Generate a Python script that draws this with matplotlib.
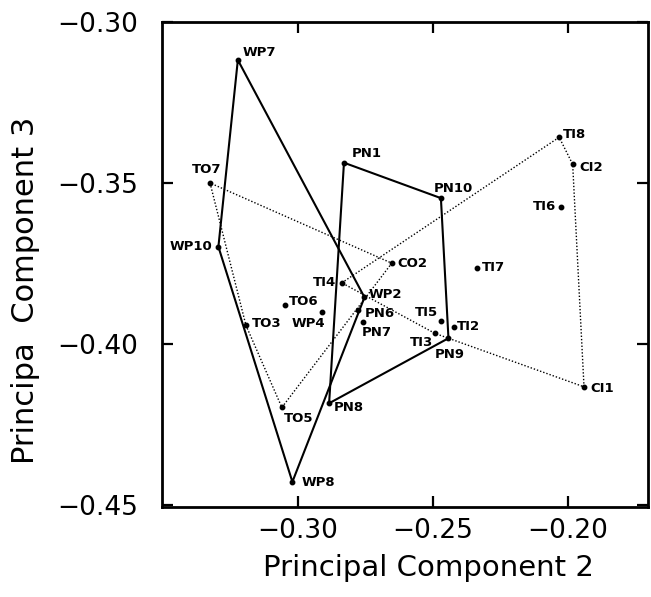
"""Principal component scatter with convex hulls per site group."""

import matplotlib

matplotlib.use("Agg")
from matplotlib import pyplot as plt

# sample scores on PC2 (x) and PC3 (y)
names = [
    "WP7", "WP10", "WP8", "WP2", "WP4",
    "PN1", "PN10", "PN9", "PN8", "PN6", "PN7",
    "TO7", "TO3", "TO5", "TO6", "CO2",
    "TI4", "TI8", "TI6", "TI7", "TI5", "TI2", "TI3", "CI2", "CI1",
]
pc2 = [
    -0.3223, -0.3295, -0.3021, -0.2754, -0.2910,
    -0.2830, -0.2471, -0.2443, -0.2885, -0.2777, -0.2758,
    -0.3326, -0.3193, -0.3060, -0.3048, -0.2653,
    -0.2838, -0.2033, -0.2027, -0.2336, -0.2469, -0.2422, -0.2493, -0.1983, -0.1941,
]
pc3 = [
    -0.3118, -0.3698, -0.4428, -0.3855, -0.3901,
    -0.3437, -0.3547, -0.3982, -0.4184, -0.3894, -0.3931,
    -0.3500, -0.3942, -0.4197, -0.3880, -0.3749,
    -0.3810, -0.3358, -0.3575, -0.3764, -0.3928, -0.3946, -0.3967, -0.3442, -0.4133,
]

# hull outlines, as vertex names
hull_wp = ["WP7", "WP10", "WP8", "WP2", "WP7"]
hull_pn = ["PN1", "PN10", "PN9", "PN8", "PN1"]
hull_to = ["TO7", "TO3", "TO5", "CO2", "TO7"]
hull_ti = ["TI4", "TI8", "CI2", "CI1", "TI3", "TI4"]

xticks = [-0.30, -0.25, -0.20]
yticks = [-0.30, -0.35, -0.40, -0.45]

# label placement: offset in pixels (right, down) and alignment
label_pos = {
    "WP7": (5, -7, "left"), "WP10": (-6, 0, "right"), "WP8": (9, 1, "left"),
    "WP2": (4, -3, "left"), "WP4": (3, 11, "right"),
    "PN1": (8, -9, "left"), "PN10": (-7, -10, "left"), "PN9": (1, 16, "center"),
    "PN8": (5, 4, "left"), "PN6": (6, 4, "left"), "PN7": (-2, 11, "left"),
    "TO7": (-3, -13, "center"), "TO3": (6, -2, "left"), "TO5": (2, 11, "left"),
    "TO6": (4, -4, "left"), "CO2": (6, 0, "left"),
    "TI4": (-6, 0, "right"), "TI8": (4, -3, "left"), "TI6": (-5, -1, "right"),
    "TI7": (5, -1, "left"), "TI5": (-3, -8, "right"), "TI2": (3, 0, "left"),
    "TI3": (-2, 9, "right"), "CI2": (7, 3, "left"), "CI1": (6, 2, "left"),
}


def hull_xy(hull):
    idx = [names.index(n) for n in hull]
    return [pc2[i] for i in idx], [pc3[i] for i in idx]


def main() -> None:
    plt.rcParams["font.family"] = ["DejaVu Sans"]
    fig = plt.figure(figsize=(6.51, 5.97), dpi=100)
    ax = fig.add_axes([0.2488, 0.1508, 0.7466, 0.8124])

    for hull in (hull_wp, hull_pn):
        hx, hy = hull_xy(hull)
        ax.plot(hx, hy, color="black", linewidth=1.5, solid_joinstyle="miter")
    for hull in (hull_to, hull_ti):
        hx, hy = hull_xy(hull)
        ax.plot(hx, hy, color="black", linewidth=1.0, linestyle=(0, (1, 1.4)))

    ax.plot(pc2, pc3, "o", color="black", markersize=3.2, linestyle="none")

    px = 72 / 100
    for name, x, y in zip(names, pc2, pc3):
        dx, dy, ha = label_pos[name]
        ax.annotate(name, (x, y), xytext=(dx * px, -dy * px), textcoords="offset points",
                    ha=ha, va="center", fontsize=9.5, fontweight="bold")

    ax.set_xlim(-0.3504, -0.1704)
    ax.set_ylim(-0.4506, -0.30)
    ax.set_xticks(xticks)
    ax.set_yticks(yticks)
    ax.set_xticklabels([f"{t:.2f}".replace("-", "\u2212") for t in xticks])
    ax.set_yticklabels([f"{t:.2f}".replace("-", "\u2212") for t in yticks])
    ax.tick_params(direction="in", length=8, width=1.6, top=True, right=True,
                   labelsize=19)
    ax.tick_params(axis="y", pad=17)
    ax.tick_params(axis="x", pad=8)
    for spine in ax.spines.values():
        spine.set_linewidth(2.0)

    ax.text(0.548, -0.126, "Principal Component 2", transform=ax.transAxes,
            ha="center", va="center", fontsize=21)
    ax.text(-0.28, 0.447, "Principa  Component 3", transform=ax.transAxes,
            ha="center", va="center", rotation=90, fontsize=22)

    fig.savefig("out.png", dpi=100)
    plt.close(fig)


if __name__ == "__main__":
    main()
